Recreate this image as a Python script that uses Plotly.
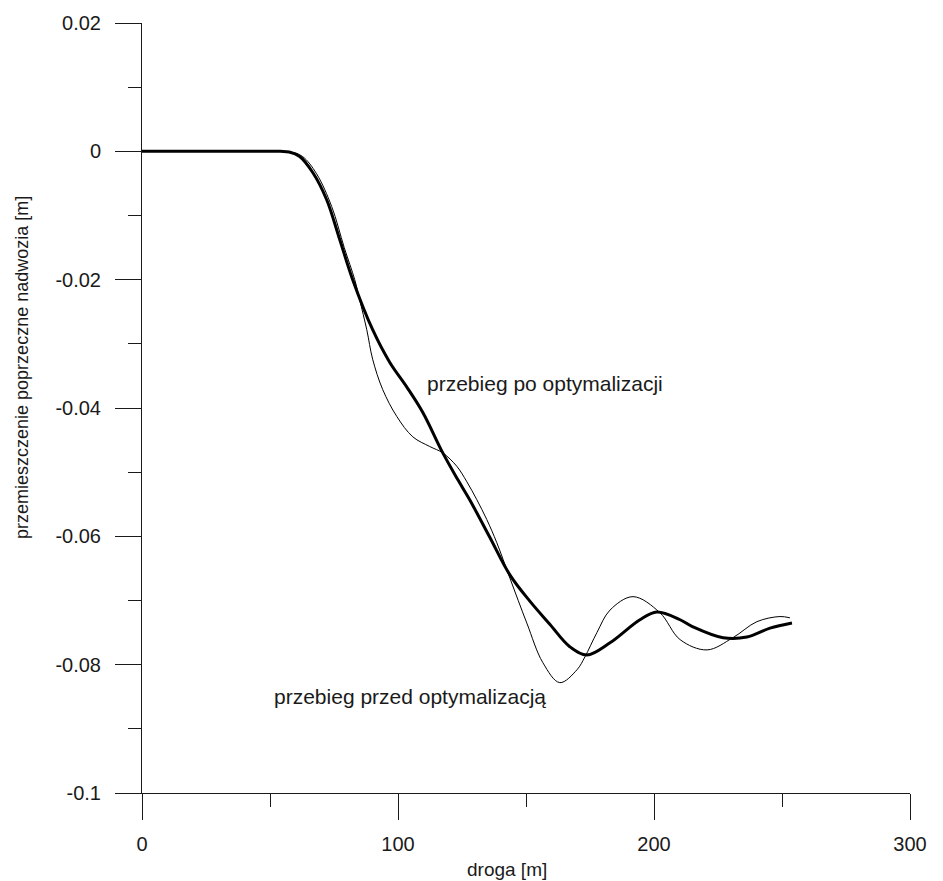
import plotly.graph_objects as go

# droga [m] vs. lateral body displacement [m]
x_after = [0, 30, 54, 57.5, 61.6, 66.7, 72.1, 77.2, 82.3, 90.1, 96.8, 103.4, 109.7,
           117.5, 123.4, 128.0, 135.8, 143.7, 151.5, 159.3, 167.1, 173.8, 182.8,
           194.5, 201.1, 210.2, 215.2, 227.0, 236.3, 245.3, 253.9]
y_after = [0, 0, 0, -0.0001, -0.0008, -0.0033, -0.0075, -0.0137, -0.0200, -0.0278,
           -0.0329, -0.0367, -0.0407, -0.0470, -0.0512, -0.0543, -0.0601, -0.0660,
           -0.0701, -0.0737, -0.0772, -0.0785, -0.0766, -0.0730, -0.0718, -0.0730,
           -0.0741, -0.0758, -0.0757, -0.0743, -0.0735]

x_before = [0, 30, 54, 58.0, 62.7, 68.2, 74.1, 79.0, 83.1, 85.0, 87.8, 90.1, 94.0,
            99.5, 105.8, 112.4, 117.5, 123.0, 126.9, 130.8, 134.7, 138.6, 143.7,
            150.3, 156.6, 163.2, 169.9, 173.0, 177.7, 182.8, 191.8, 202.3, 210.2,
            220.7, 230.8, 240.2, 249.2, 253.1]
y_before = [0, 0, 0, -0.0001, -0.0008, -0.0035, -0.0086, -0.0150, -0.0200, -0.0231,
            -0.0278, -0.0324, -0.0371, -0.0413, -0.0445, -0.0460, -0.0470, -0.0491,
            -0.0515, -0.0543, -0.0574, -0.0610, -0.0665, -0.0735, -0.0797, -0.0828,
            -0.0808, -0.0788, -0.0750, -0.0715, -0.0694, -0.0719, -0.0761, -0.0777,
            -0.0758, -0.0733, -0.0725, -0.0727]

x_ticks = [0, 100, 200, 300]
x_tick_labels = ["0", "100", "200", "300"]
x_minor = [50, 150, 250]
y_ticks = [0.02, 0, -0.02, -0.04, -0.06, -0.08, -0.1]
y_tick_labels = ["0.02", "0", "-0.02", "-0.04", "-0.06", "-0.08", "-0.1"]
y_minor = [0.01, -0.01, -0.03, -0.05, -0.07, -0.09]

FONT = "Liberation Sans, Arial, sans-serif"
INK = "#1a1a1a"

fig = go.Figure()
fig.add_trace(go.Scatter(x=x_before, y=y_before, mode="lines",
                         line=dict(color="black", width=1, shape="spline", smoothing=1.0),
                         name="przebieg przed optymalizacją"))
fig.add_trace(go.Scatter(x=x_after, y=y_after, mode="lines",
                         line=dict(color="black", width=3, shape="spline", smoothing=1.0),
                         name="przebieg po optymalizacji"))

axis_common = dict(showgrid=False, zeroline=False, showline=True, linecolor=INK,
                   linewidth=1, ticks="outside", ticklen=26, tickwidth=1,
                   tickcolor=INK, tickfont=dict(family=FONT, size=20, color=INK),
                   tickmode="array")

fig.update_xaxes(range=[0, 300], tickvals=x_ticks, ticktext=x_tick_labels,
                 minor=dict(tickvals=x_minor, ticks="outside", ticklen=13,
                            tickcolor=INK, tickwidth=1),
                 ticklabelstandoff=7, **axis_common)
fig.update_yaxes(range=[-0.1, 0.02], tickvals=y_ticks, ticktext=y_tick_labels,
                 minor=dict(tickvals=y_minor, ticks="outside", ticklen=13,
                            tickcolor=INK, tickwidth=1),
                 ticklabelstandoff=10, **axis_common)

fig.add_annotation(x=110.4, y=-0.0362, xref="x", yref="y", xanchor="left",
                   yanchor="middle", showarrow=False, text="przebieg po optymalizacji",
                   font=dict(family=FONT, size=21, color=INK))
fig.add_annotation(x=50.6, y=-0.0850, xref="x", yref="y", xanchor="left",
                   yanchor="middle", showarrow=False, text="przebieg przed optymalizacją",
                   font=dict(family=FONT, size=21, color=INK))

# axis titles
fig.add_annotation(x=0.475, y=0, xref="paper", yref="paper", yshift=-64,
                   xanchor="center", yanchor="top", showarrow=False, text="droga [m]",
                   font=dict(family=FONT, size=19, color=INK))
fig.add_annotation(x=0, y=0.552, xref="paper", yref="paper", xshift=-120,
                   xanchor="center", yanchor="middle", showarrow=False, textangle=-90,
                   text="przemieszczenie poprzeczne nadwozia [m]",
                   font=dict(family=FONT, size=18, color=INK))

fig.update_layout(width=943, height=881, showlegend=False,
                  plot_bgcolor="white", paper_bgcolor="white",
                  margin=dict(l=142, r=33, t=23, b=88))

fig.write_html("out.html")
